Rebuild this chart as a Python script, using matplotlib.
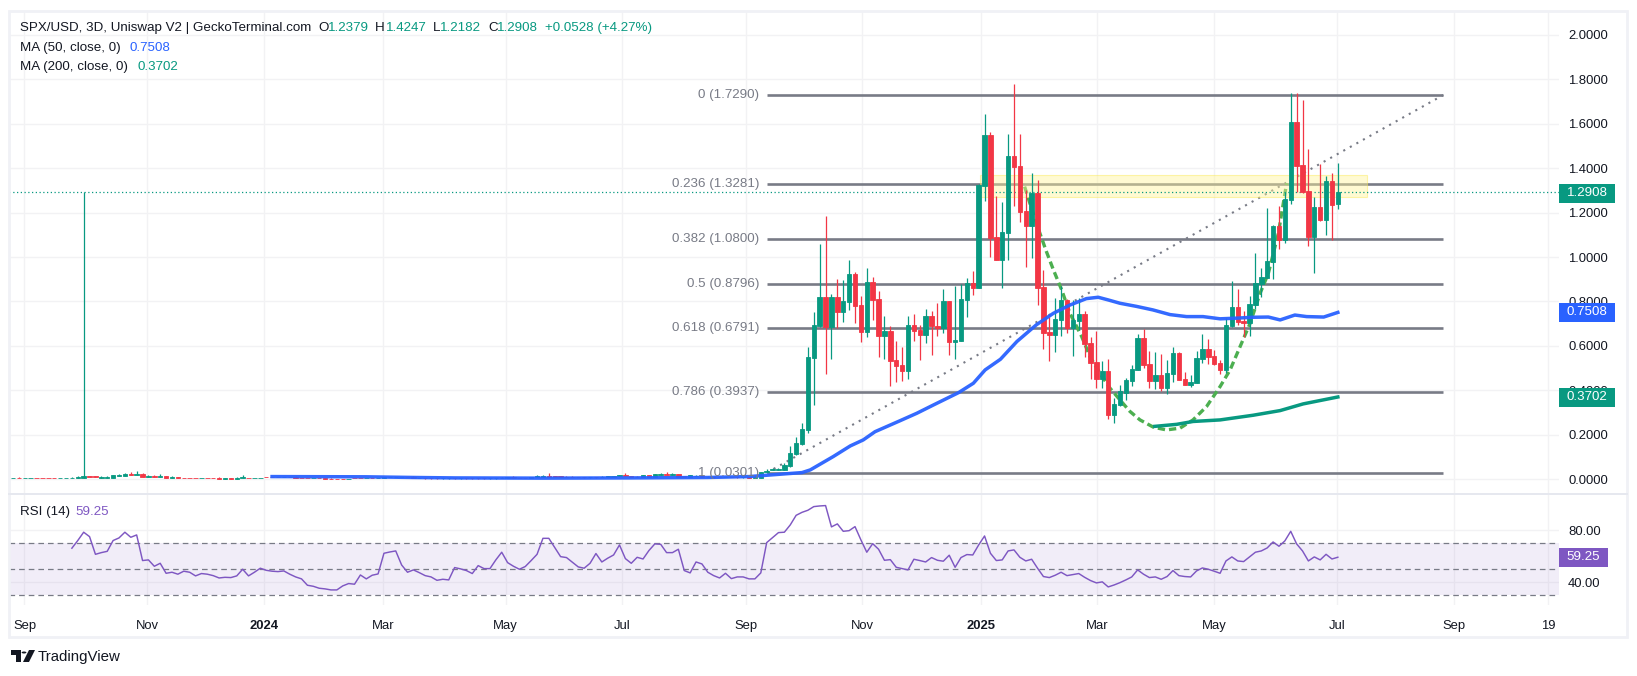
import numpy as np
from matplotlib import pyplot as plt
from matplotlib.patches import Circle, Polygon, Rectangle

plt.rcParams['font.family'] = ['Liberation Sans', 'DejaVu Sans']

W, H = 1637, 676

# 3D candles, oldest first
opens = [.0044, .0050, .0044, .0044, .0050, .0050, .0050, .0050, .0044, .0044,
         .0044, .0059, .0059, .0149, .0149, .0059, .0059, .0059, .0149, .0149,
         .0239, .0194, .0239, .0104, .0149, .0104, .0149, .0059, .0088, .0070,
         .0070, .0070, .0059, .0070, .0070, .0059, .0014, .0059, .0014, .0059,
         .0070, .0059, .0059, .0090, .0090, .0090, .0085, .0105, .0092, .0065,
         .0065, .0050, .0070, .0050, .0030, .0020, .0020, .0005, .0060, .0060,
         .0045, .0060, .0045, .0060, .0085, .0085, .0085, .0105, .0090, .0050,
         .0050, .0050, .0050, .0035, .0035, .0050, .0035, .0050, .0050, .0050,
         .0050, .0035, .0035, .0045, .0075, .0090, .0060, .0060, .0045, .0089,
         .0089, .0149, .0130, .0130, .0120, .0120, .0110, .0100, .0085, .0095,
         .0085, .0100, .0110, .0140, .0209, .0149, .0120, .0095, .0179, .0119,
         .0179, .0239, .0179, .0239, .0130, .0105, .0130, .0130, .0095, .0120,
         .0110, .0090, .0110, .0100, .0080, .0105, .0075, .0074, .0314, .042,
         .042, .042, .0615, .114, .159, .222, .5475, .69, .8205, .6855,
         .8205, .753, .798, .924, .7845, .663, .888, .8115, .645, .6675,
         .537, .5145, .4875, .6945, .672, .6495, .735, .69, .681, .8025,
         .618, .6225, .807, .8835, .861, 1.32, 1.5495, 1.0905, .987, 1.1085,
         1.455, 1.41, 1.2075, 1.14, 1.2885, .8655, .6645, .6495, .717, .807,
         .6795, .714, .744, .612, .528, .453, .4875, .291, .3345, .39,
         .444, .4935, .636, .519, .444, .4695, .4125, .4755, .5685, .4515,
         .4245, .4335, .5415, .5865, .555, .5235, .492, .69, .7755, .7125,
         .7035, .7845, .879, .906, .978, 1.14, 1.077, 1.257, 1.608, 1.4145,
         1.2975, 1.0905, 1.2255, 1.167, 1.3425, 1.2379]
highs = [.0052, .0104, .0054, .0052, .0054, .0054, .0052, .0052, .0052, .0052,
         .0104, .0149, 1.291, .0155, .0155, .0164, .0164, .0194, .0239, .0284,
         .0329, .0374, .0284, .0194, .0194, .0239, .0155, .0149, .0095, .0075,
         .0075, .0075, .0075, .0075, .0075, .0104, .0065, .0065, .0104, .0194,
         .0075, .0075, .0075, .0098, .0095, .0095, .0110, .0112, .0140, .0070,
         .0070, .0075, .0075, .0055, .0035, .0025, .0025, .0025, .0065, .0065,
         .0065, .0065, .0065, .0090, .0110, .0110, .0110, .0110, .0135, .0070,
         .0055, .0055, .0055, .0055, .0055, .0055, .0055, .0055, .0055, .0055,
         .0055, .0060, .0060, .0080, .0095, .0145, .0065, .0065, .0095, .0170,
         .0170, .0269, .0140, .0135, .0125, .0125, .0115, .0105, .0105, .0100,
         .0130, .0160, .0160, .0209, .0269, .0155, .0125, .0190, .0185, .0254,
         .0269, .0314, .0269, .0245, .0135, .0210, .0170, .0135, .0125, .0125,
         .0115, .0120, .0115, .0105, .0115, .0110, .0125, .0314, .0449, .0525,
         .0495, .072, .15, .189, .252, .597, .753, 1.059, 1.185, .834,
         .90, .897, .987, .9345, .825, .951, .912, .8475, .735, .69,
         .624, .597, .735, .744, .6945, .7665, .7575, .7935, .8565, .8025,
         .87, .879, .906, .9375, 1.329, 1.644, 1.563, 1.275, 1.248, 1.554,
         1.779, 1.554, 1.302, 1.3785, 1.347, .942, .732, .816, .87, .8115,
         .807, .816, .7575, .642, .6675, .5325, .5415, .366, .4245, .456,
         .5145, .654, .6765, .5775, .573, .564, .537, .5955, .573, .483,
         .4695, .5775, .654, .6315, .582, .537, .726, .8925, .8565, .7575,
         .825, 1.0185, .951, 1.221, 1.1445, 1.23, 1.293, 1.737, 1.737, 1.707,
         1.4865, 1.2705, 1.419, 1.365, 1.3785, 1.4247]
lows = [.0040, .0040, .0040, .0040, .0040, .0040, .0040, .0040, .0040, .0040,
        .0040, .0050, .0050, .0119, .0119, .0050, .0050, .0050, .0140, .0140,
        .0194, .0190, .0104, .0100, .0100, .0100, .0059, .0055, .0059, .0055,
        .0055, .0055, .0055, .0055, .0055, .0029, .0010, .0014, .0010, .0055,
        .0055, .0055, .0055, .0080, .0080, .0080, .0080, .0090, .0060, .0050,
        .0045, .0045, .0045, .0025, .0002, .0000, .0000, .0000, .0040, .0040,
        .0040, .0040, .0040, .0055, .0080, .0080, .0080, .0085, .0045, .0045,
        .0030, .0030, .0030, .0030, .0030, .0030, .0030, .0030, .0030, .0030,
        .0030, .0030, .0030, .0040, .0070, .0050, .0040, .0040, .0040, .0085,
        .0085, .0110, .0100, .0100, .0090, .0090, .0080, .0075, .0075, .0075,
        .0080, .0095, .0105, .0135, .0140, .0100, .0090, .0090, .0110, .0115,
        .0175, .0170, .0175, .0119, .0100, .0100, .0125, .0090, .0090, .0075,
        .0085, .0085, .0080, .0075, .0075, .0070, .0070, .0070, .0300, .040,
        .040, .040, .057, .1095, .156, .207, .3345, .684, .474, .5415,
        .6795, .7095, .762, .702, .618, .642, .717, .549, .5415, .42,
        .438, .444, .453, .6225, .537, .612, .5595, .645, .6585, .5595,
        .5415, .6225, .7305, .8295, .861, 1.2525, 1.0005, .987, .861, .987,
        1.23, 1.158, .9555, .996, .7845, .5865, .5325, .573, .645, .657,
        .555, .672, .552, .4515, .411, .4095, .2715, .2535, .33, .357,
        .42, .492, .501, .411, .4065, .3975, .384, .438, .447, .4245,
        .4155, .4335, .5235, .519, .5145, .474, .4785, .6855, .6945, .6405,
        .645, .7665, .8205, .906, .9015, 1.0365, 1.0635, 1.239, 1.293, 1.2885,
        1.05, .9285, 1.1625, 1.0995, 1.077, 1.2182]
closes = [.0050, .0044, .0050, .0050, .0044, .0044, .0044, .0044, .0050, .0050,
          .0054, .0104, .0149, .0119, .0119, .0119, .0119, .0194, .0194, .0239,
          .0194, .0239, .0104, .0149, .0104, .0149, .0059, .0104, .0059, .0059,
          .0059, .0059, .0070, .0059, .0059, .0029, .0059, .0014, .0059, .0104,
          .0059, .0070, .0070, .0085, .0085, .0085, .0105, .0092, .0065, .0055,
          .0050, .0070, .0050, .0030, .0005, .0005, .0005, .0020, .0045, .0045,
          .0060, .0045, .0060, .0085, .0105, .0105, .0105, .0090, .0050, .0065,
          .0035, .0035, .0035, .0050, .0050, .0035, .0050, .0035, .0035, .0035,
          .0035, .0055, .0055, .0075, .0090, .0055, .0045, .0045, .0090, .0149,
          .0149, .0119, .0110, .0110, .0100, .0100, .0085, .0085, .0095, .0085,
          .0120, .0140, .0149, .0194, .0149, .0105, .0095, .0179, .0119, .0224,
          .0239, .0179, .0239, .0119, .0105, .0194, .0149, .0095, .0120, .0080,
          .0090, .0110, .0085, .0080, .0105, .0075, .0119, .0314, .0389, .0465,
          .0465, .0645, .117, .162, .225, .549, .6945, .8205, .6855, .8205,
          .753, .8025, .924, .78, .663, .888, .807, .645, .6675, .5325,
          .51, .4875, .6945, .6675, .6495, .735, .69, .681, .8025, .618,
          .627, .8115, .8835, .861, 1.3245, 1.5495, 1.086, .987, 1.113, 1.455,
          1.4055, 1.203, 1.14, 1.2885, .861, .66, .6495, .7215, .807, .6795,
          .717, .744, .609, .525, .453, .4875, .291, .339, .396, .447,
          .4965, .636, .5145, .444, .4695, .4125, .4785, .5685, .447, .4245,
          .438, .546, .5865, .552, .5205, .492, .6945, .7755, .7095, .7035,
          .789, .882, .9105, .9825, 1.14, 1.077, 1.2615, 1.608, 1.41, 1.293,
          1.0905, 1.2255, 1.167, 1.3425, 1.2345, 1.2908]

# moving averages at these bar positions
ma50_x = [44, 60, 68, 75, 90, 105, 118, 125, 130, 134, 135.4, 139.3, 142.2, 144.4, 146.4,
          150.7, 153.5, 156.3, 160.6, 163.1, 165.1, 167.7, 170.5, 173.8, 176.7, 179.5,
          182.3, 184.3, 186, 188, 190.8, 193.6, 196.5, 199.3, 202.1, 205, 207.8, 210.6,
          213.2, 215.2, 217.7, 219.7, 222.6, 225]
ma50_y = [.012, .011, .008, .006, .005, .006, .008, .012, .022, .03, .042, .102, .15, .177, .214,
          .264, .297, .334, .39, .432, .492, .54, .62, .695, .747, .784,
          .813, .819, .807, .792, .778, .762, .741, .732, .732, .722, .725, .729,
          .73, .717, .739, .732, .73, .7508]
ma200_x = [193.9, 197.6, 200.4, 205, 210.6, 215.2, 219.1, 225]
ma200_y = [.238, .247, .26, .267, .288, .309, .339, .3702]

# hand drawn cup
cup_x = [171.8, 172.7, 174.4, 175.5, 176.7, 178.1, 179.5, 181.5, 182.9, 184.6, 186.3, 188, 189.7,
         191.4, 193.7, 195.9, 198.2, 200.4, 202.7, 205, 206.7, 208.4, 210.1, 211.8, 213.2, 214.9, 216.3]
cup_y = [1.317, 1.242, 1.107, 1.025, .942, .852, .747, .642, .552, .477, .41, .357, .305,
         .267, .234, .222, .23, .267, .327, .417, .492, .597, .702, .837, .927, 1.107, 1.332]

fib_levels = [1.7290, 1.3281, 1.0800, .8796, .6791, .3937, .0301]
fib_labels = ['0 (1.7290)', '0.236 (1.3281)', '0.382 (1.0800)', '0.5 (0.8796)',
              '0.618 (0.6791)', '0.786 (0.3937)', '1 (0.0301)']

# RSI starts at bar 10
rsi = [66.2, 72.1, 78.5, 75.1, 61.5, 62.8, 63.8, 72.1, 74.1, 78.5, 74.6, 76.4, 56.7, 57.2, 52.3,
       54.6, 46.9, 47.7, 46.2, 48.5, 47.7, 44.9, 46.7, 46.2, 45.1, 43.3, 43.8, 43.6, 44.9, 50.0,
       44.9, 47.7, 50.8, 49.2, 48.5, 48.2, 48.7, 46.2, 44.1, 42.6, 37.7, 36.9, 35.4, 34.9, 34.1,
       34.1, 37.2, 39.0, 38.5, 45.6, 42.6, 45.4, 46.4, 62.3, 63.3, 64.1, 53.3, 47.7, 49.5, 47.4,
       45.1, 44.1, 41.5, 42.3, 41.8, 51.3, 50.3, 49.0, 46.7, 52.8, 50.5, 50.5, 57.2, 63.1, 55.1,
       52.3, 50.0, 52.1, 56.7, 61.5, 73.8, 73.8, 66.7, 59.7, 59.0, 55.4, 51.8, 50.8, 54.6, 62.1,
       55.6, 58.5, 61.0, 68.7, 58.2, 54.6, 59.2, 57.9, 64.4, 69.5, 69.2, 62.8, 62.8, 65.4, 49.0,
       47.2, 55.6, 54.1, 47.7, 45.1, 43.3, 46.9, 42.8, 44.1, 44.1, 42.6, 42.6, 47.2, 70.5, 74.4,
       78.2, 78.5, 84.1, 91.5, 93.8, 95.4, 98.2, 98.7, 99.0, 82.6, 84.9, 79.2, 79.7, 82.8, 72.6,
       63.1, 69.7, 65.4, 56.9, 57.4, 51.5, 50.5, 49.5, 57.7, 56.7, 55.6, 59.0, 56.9, 56.2, 60.8,
       51.5, 59.0, 61.3, 61.0, 68.7, 75.6, 62.3, 56.7, 57.2, 64.1, 64.9, 59.2, 56.4, 57.7, 50.8,
       44.4, 43.6, 45.4, 47.7, 45.1, 45.9, 46.7, 43.8, 41.3, 39.5, 40.3, 36.4, 37.9, 39.7, 41.8,
       44.1, 49.5, 46.2, 43.6, 44.1, 42.3, 44.4, 49.0, 45.1, 44.4, 44.1, 48.7, 51.0, 50.0, 48.5,
       46.9, 56.4, 59.5, 56.4, 55.9, 59.5, 63.1, 64.1, 66.4, 71.0, 67.7, 71.8, 79.2, 69.5, 64.1,
       56.4, 59.5, 57.2, 61.5, 57.9, 59.25]

price_ticks = [0, .2, .4, .6, .8, 1.0, 1.2, 1.4, 1.6, 1.8, 2.0]
time_ticks = [1.95, 22.83, 42.63, 62.84, 83.66, 103.43, 124.44, 144.24, 164.35, 184.15, 204.03, 224.9, 244.8, 260.7]
time_labels = ['Sep', 'Nov', '2024', 'Mar', 'May', 'Jul', 'Sep', 'Nov', '2025', 'Mar', 'May', 'Jul', 'Sep', '19']

GREEN = '#089981'
RED = '#f23645'
BLUE = '#2962ff'
PURPLE = '#7e57c2'
FIB = '#787b86'
GRID = '#f2f2f4'
FRAME = '#f0f1f6'
TEXT = '#131722'


def fx(x):
    return x / W


def fy(y):
    return 1 - y / H


def put_text(x, y, s, color=TEXT, size=9.6, **kw):
    fig.text(fx(x), fy(y), s, color=color, fontsize=size, va='center', **kw)


def put_tag(y0, y1, x1, s, color):
    fig.add_artist(Rectangle((fx(1559), fy(y1)), (x1 - 1559) / W, (y1 - y0) / H,
                             transform=fig.transFigure, facecolor=color, edgecolor='none', zorder=5))
    fig.text(fx(1587 if x1 > 1610 else 1583), fy((y0 + y1) / 2), s, color='white', fontsize=9.6,
             ha='center', va='center', zorder=6)


fig = plt.figure(figsize=(W / 100, H / 100), dpi=100, facecolor='white')
ax = fig.add_axes([fx(9), fy(494), (1559 - 9) / W, (494 - 11) / H])
ax_rsi = fig.add_axes([fx(9), fy(605), (1559 - 9) / W, (605 - 494) / H], sharex=ax)

idx = np.arange(len(closes))
o = np.array(opens)
c = np.array(closes)
colors = [GREEN if c[i] >= o[i] else RED for i in idx]

# price pane
ax.vlines(idx, lows, highs, colors=colors, linewidth=0.9, zorder=3)
ax.bar(idx, np.abs(c - o), bottom=np.minimum(o, c), width=0.75, color=colors, edgecolor=colors,
       linewidth=0.6, zorder=3.1)

ax.hlines(fib_levels, 128.06, 242.9, colors=FIB, linewidth=1.9, zorder=2)
for level, label in zip(fib_levels, fib_labels):
    ax.text(126.7, level, label, color=FIB, fontsize=9.6, ha='right', va='center', zorder=4)
ax.plot([128.06, 242.9], [fib_levels[-1], fib_levels[0]], color=FIB, linewidth=1.5,
        linestyle=(0, (1, 2.6)), zorder=2.1)

ax.plot(cup_x, cup_y, color='#4caf50', linewidth=2.4, linestyle=(0, (2.2, 1.2)), zorder=2.2)
ax.add_patch(Rectangle((164.2, 1.272), 65.8, 0.0975, facecolor='#fff59d', alpha=0.45,
                       edgecolor='#fbe94f', linewidth=0.8, zorder=2.5))
ax.axhline(closes[-1], color=GREEN, linewidth=0.9, linestyle=(0, (1, 2)), zorder=2.6)

ax.plot(ma50_x, ma50_y, color=BLUE, linewidth=2.5, alpha=0.95, zorder=3.5)
ax.plot(ma200_x, ma200_y, color=GREEN, linewidth=2.5, zorder=3.5)

ax.set_xlim(-0.68, 262.56)
ax.set_ylim(-0.0664, 2.1073)
ax.set_yticks(price_ticks)
ax.set_yticklabels(['%.4f' % p for p in price_ticks])
ax.yaxis.tick_right()
ax.set_xticks(time_ticks)
ax.grid(True, color=GRID, linewidth=1)
ax.set_axisbelow(True)
ax.tick_params(axis='y', length=0, pad=6.5, labelsize=9.4, labelcolor=TEXT)
ax.tick_params(axis='x', length=0, labelbottom=False)
for spine in ax.spines.values():
    spine.set_visible(False)

# RSI pane
ax_rsi.axhspan(30, 70, facecolor=PURPLE, alpha=0.1, linewidth=0, zorder=1)
for level in (70, 50, 30):
    ax_rsi.axhline(level, color=FIB, linewidth=0.9, linestyle=(0, (4.5, 3.2)), zorder=2)
ax_rsi.plot(np.arange(10, 226), rsi, color=PURPLE, linewidth=1.05, zorder=3)
ax_rsi.set_ylim(22.5, 107.9)
ax_rsi.set_yticks([40, 80])
ax_rsi.set_yticklabels(['40.00', '80.00'])
ax_rsi.yaxis.tick_right()
ax_rsi.set_xticks(time_ticks)
ax_rsi.set_xticklabels(time_labels)
for label in ax_rsi.get_xticklabels():
    if label.get_text() in ('2024', '2025'):
        label.set_fontweight('bold')
ax_rsi.grid(True, color=GRID, linewidth=1)
ax_rsi.set_axisbelow(True)
ax_rsi.tick_params(axis='y', length=0, pad=6.5, labelsize=9.4, labelcolor=TEXT)
ax_rsi.tick_params(axis='x', length=0, pad=11, labelsize=9.4, labelcolor=TEXT)
for spine in ax_rsi.spines.values():
    spine.set_visible(False)

# chart frame and pane divider
fig.add_artist(Rectangle((fx(9), fy(637)), (1627 - 9) / W, (637 - 11) / H, transform=fig.transFigure,
                         facecolor='none', edgecolor=FRAME, linewidth=2, zorder=4))
fig.add_artist(plt.Line2D([fx(9), fx(1627)], [fy(494), fy(494)], transform=fig.transFigure,
                          color='#e6e8ef', linewidth=1.4, zorder=4))

# legend rows
put_text(20, 28, 'SPX/USD, 3D, Uniswap V2 | GeckoTerminal.com')
for x, s in [(318, 'O'), (375, 'H'), (433, 'L'), (488, 'C')]:
    put_text(x, 28, s)
for x, s in [(328, '1.2379'), (386, '1.4247'), (440, '1.2182'), (497, '1.2908'), (545, '+0.0528 (+4.27%)')]:
    put_text(x, 28, s, color=GREEN)
put_text(20, 48, 'MA (50, close, 0)')
put_text(130, 48, '0.7508', color=BLUE)
put_text(20, 67, 'MA (200, close, 0)')
put_text(137, 67, '0.3702', color=GREEN)
put_text(20, 512, 'RSI (14)')
put_text(75, 512, '59.25', color=PURPLE)

# price tags on the scale
put_tag(184, 203, 1615, '1.2908', GREEN)
put_tag(303, 322, 1615, '0.7508', BLUE)
put_tag(388, 407, 1615, '0.3702', GREEN)
put_tag(548, 567, 1608, '59.25', PURPLE)

# TradingView mark
fig.add_artist(Polygon([(fx(11), fy(650)), (fx(21), fy(650)), (fx(21), fy(662)), (fx(16), fy(662)),
                        (fx(16), fy(655)), (fx(11), fy(655))], transform=fig.transFigure,
                       facecolor=TEXT, edgecolor='none'))
fig.add_artist(Circle((fx(24), fy(652.5)), 2.4 / W, transform=fig.transFigure, facecolor=TEXT, edgecolor='none'))
fig.add_artist(Polygon([(fx(29), fy(650)), (fx(35), fy(650)), (fx(29), fy(662)), (fx(23), fy(662))],
                       transform=fig.transFigure, facecolor=TEXT, edgecolor='none'))
put_text(38, 656.5, 'TradingView', size=10.8)

fig.savefig('out.png', dpi=100, facecolor='white')
plt.close(fig)
